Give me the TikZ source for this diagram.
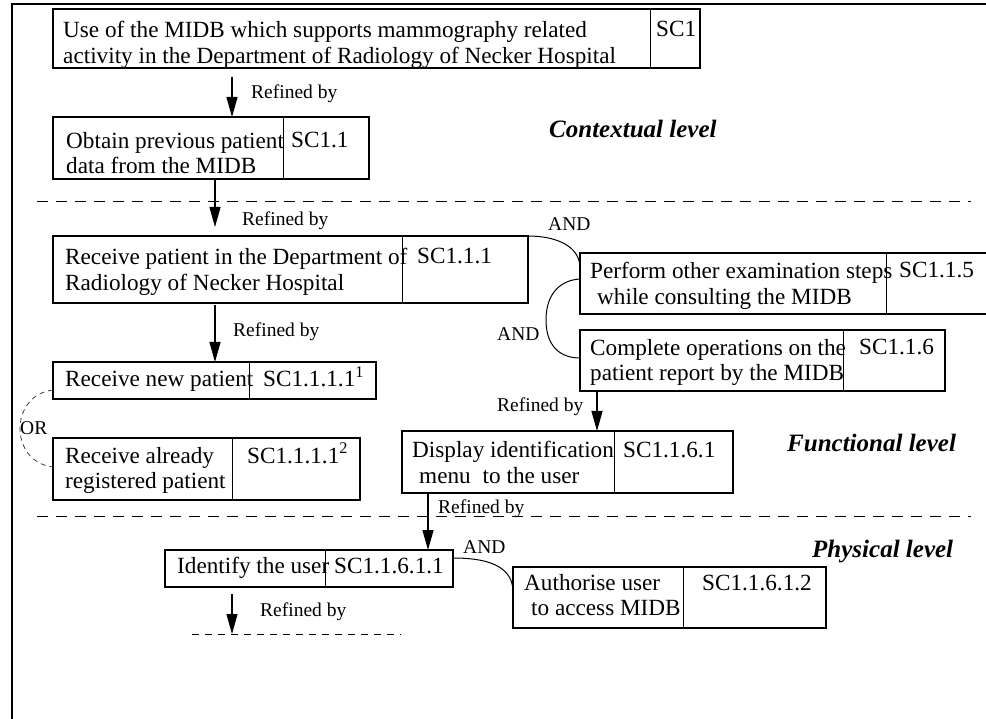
\documentclass[tikz,border=0pt]{standalone}
\usepackage{fontspec}
\setmainfont{Liberation Serif}
\usetikzlibrary{arrows.meta,calc}
\newcommand\mainsz{\fontsize{23.2}{25.5}\selectfont}
\newcommand\labsz{\fontsize{19.5}{22}\selectfont}
\newcommand\levsz{\fontsize{25}{28}\selectfont\bfseries\itshape}
\begin{document}
\begin{tikzpicture}[x=1pt,y=-1pt,
  box/.style={draw,line width=1.5pt,inner sep=0pt,outer sep=0pt,anchor=north west},
  divider/.style={line width=1pt},
  txt/.style={inner sep=0pt,anchor=base west,font=\mainsz},
  txtml/.style={inner sep=0pt,anchor=north west,align=left,font=\mainsz},
  lab/.style={inner sep=0pt,anchor=base west,font=\labsz},
  lev/.style={inner sep=0pt,anchor=base west,font=\levsz},
  arr/.style={line width=1.2pt,-{Triangle[length=20pt,width=11pt]}},
  andline/.style={line width=1pt},
  orline/.style={line width=0.8pt,black!75,dash pattern=on 5pt off 4pt},
  levline/.style={line width=1pt,dash pattern=on 11pt off 8pt},
  shortdash/.style={line width=1pt,dash pattern=on 6.5pt off 6.5pt}]
\useasboundingbox (0,0) rectangle (986,719);
\clip (0,0) rectangle (986,719);
% outer frame
\draw[line width=1.8pt] (12,719) -- (12,4) -- (990,4);
% boxes
\node[box,minimum width=647pt,minimum height=59pt] (b1) at (53,9) {};
\node[box,minimum width=316pt,minimum height=62pt] (b11) at (53,117) {};
\node[box,minimum width=475pt,minimum height=67pt] (b111) at (53,236) {};
\node[box,minimum width=323pt,minimum height=37pt] (b1111) at (53,362) {};
\node[box,minimum width=307pt,minimum height=62pt] (b1112) at (53,438) {};
\node[box,minimum width=420pt,minimum height=61pt] (b115) at (580,253) {};
\node[box,minimum width=365pt,minimum height=61pt] (b116) at (580,330) {};
\node[box,minimum width=331pt,minimum height=62pt] (b1161) at (402,431) {};
\node[box,minimum width=288pt,minimum height=37pt] (bId) at (165,550) {};
\node[box,minimum width=313pt,minimum height=61pt] (bAu) at (513,567) {};
% dividers
\draw[divider] (650,9) -- (650,68);
\draw[divider] (283,117) -- (283,179);
\draw[divider] (402,236) -- (402,303);
\draw[divider] (249,362) -- (249,399);
\draw[divider] (232,438) -- (232,500);
\draw[divider] (886,253) -- (886,314);
\draw[divider] (843,330) -- (843,391);
\draw[divider] (614,431) -- (614,493);
\draw[divider] (325,550) -- (325,587);
\draw[divider] (683,567) -- (683,628);
% texts
\node[txtml] (t1) at (63,21) {Use of the MIDB which supports mammography related\\activity in the Department of Radiology of Necker Hospital};
\node[txt] (s1) at (656,37) {SC1};
\node[txtml] (t11) at (66,132) {Obtain previous patient\\data from the MIDB};
\node[txt] (s11) at (291,148) {SC1.1};
\node[txtml] (t111) at (65,248) {Receive patient in the Department of\\Radiology of Necker Hospital};
\node[txt] (s111) at (417,264) {SC1.1.1};
\node[txt] (t1111) at (65,387) {Receive new patient};
\node[txt] (s1111) at (263,387) {SC1.1.1.1\textsuperscript{1}};
\node[txtml] (t1112) at (65,447) {Receive already\\registered patient};
\node[txt] (s1112) at (247,463) {SC1.1.1.1\textsuperscript{2}};
\node[txtml] (t115) at (590,262) {Perform other examination steps\\\hspace*{7pt}while consulting the MIDB};
\node[txt] (s115) at (899,278) {SC1.1.5};
\node[txtml] (t116) at (590,339) {Complete operations on the\\patient report by the MIDB};
\node[txt] (s116) at (859,355) {SC1.1.6};
\node[txtml] (t1161) at (412,441) {Display identification\\\hspace*{7pt}menu\hspace*{12pt}to the user};
\node[txt] (s1161) at (623,457) {SC1.1.6.1};
\node[txt] (tId) at (177,573) {Identify the user};
\node[txt] (sId) at (334,573) {SC1.1.6.1.1};
\node[txtml] (tAu) at (524,574) {Authorise user\\\hspace*{7pt}to access MIDB};
\node[txt] (sAu) at (702,590) {SC1.1.6.1.2};
% level labels
\node[lev] (lc) at (549,138) {Contextual level};
\node[lev] (lf) at (787,451) {Functional level};
\node[lev] (lp) at (812,557) {Physical level};
% level separators
\coordinate (d1a) at (37,202); \coordinate (d1b) at (971,202);
\coordinate (d2a) at (37,516); \coordinate (d2b) at (971,516);
\draw[levline] (d1a) -- (d1b);
\draw[levline] (d2a) -- (d2b);
% arrows
\coordinate (xa) at (232,0);
\coordinate (xb) at (215,0);
\coordinate (xc) at (597,0);
\coordinate (xd) at (428,0);
\coordinate (e6) at (232,634);
\draw[arr] ($(b1.south -| xa)+(0,9)$) -- (b11.north -| xa);
\draw[arr] (b11.south -| xb) -- ($(b111.north -| xb)+(0,-9)$);
\draw[arr] ($(b111.south -| xb)+(0,2)$) -- (b1111.north -| xb);
\draw[arr] (b116.south -| xc) -- (b1161.north -| xc);
\draw[arr] (b1161.south -| xd) -- (bId.north -| xd);
\draw[arr] ($(bId.south -| xa)+(0,7)$) -- (e6);
\coordinate (s6a) at (192,634); \coordinate (s6b) at (401,634);
\draw[shortdash] (s6a) -- (s6b);
% refined-by labels
\node[lab] (r1) at (251,99) {Refined by};
\node[lab] (r2) at (242,226) {Refined by};
\node[lab] (r3) at (233,337) {Refined by};
\node[lab] (r4) at (497,412) {Refined by};
\node[lab] (r5) at (438,513) {Refined by};
\node[lab] (r6) at (260,616) {Refined by};
% AND / OR connectors
\draw[andline] (b111.north east) .. controls (556,236) and (580,246) .. ($(b115.north west)+(0,15)$);
\draw[andline] ($(b115.north west)+(0,26)$) .. controls (562,280) and (546,292) .. (546,320)
  .. controls (546,346) and (560,358) .. ($(b116.north west)+(0,28)$);
\draw[andline] ($(bId.north east)+(0,8)$) .. controls (495,558) and (513,570) .. ($(bAu.north west)+(0,25)$);
\draw[orline] ($(b1111.south west)+(0,-9)$) .. controls (9,395) and (9,462) .. ($(b1112.north west)+(0,29)$);
\node[lab] (and1) at (548,231) {AND};
\node[lab] (and2) at (497,341) {AND};
\node[lab] (and3) at (463,553) {AND};
\node[lab] (or1) at (20,435) {OR};
\end{tikzpicture}
\end{document}
